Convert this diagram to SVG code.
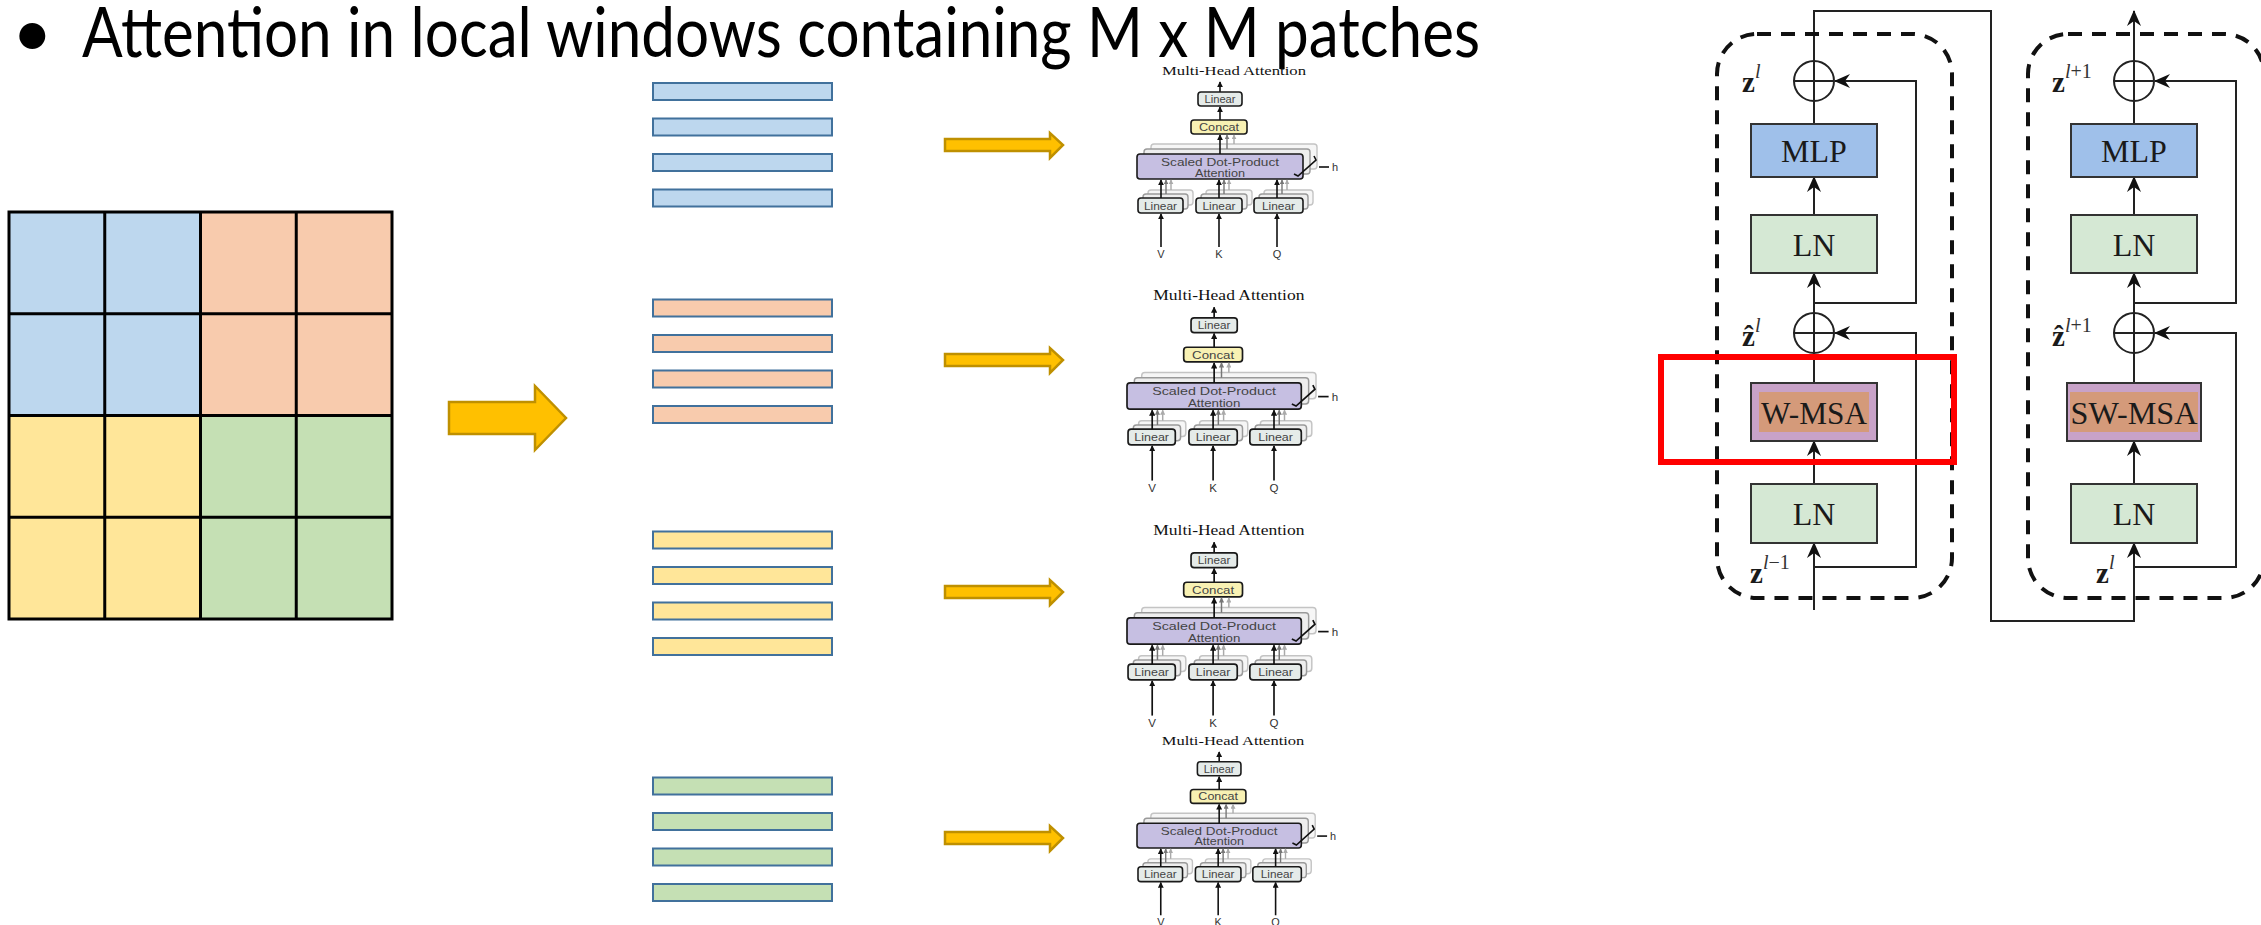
<svg xmlns="http://www.w3.org/2000/svg" xmlns:xlink="http://www.w3.org/1999/xlink" width="2261" height="925" viewBox="0 0 2261 925">
  <style>
    .title { font-family: Lato, "Open Sans", "Liberation Sans", sans-serif; font-size: 70px; fill: #000; }
    .cellline { stroke: #000; stroke-width: 3; fill: none; }
    .bar { stroke: #41719C; stroke-width: 2; }
    .blue { fill: #BDD7EE; } .orange { fill: #F8CBAD; } .yellow { fill: #FFE699; } .green { fill: #C5E0B4; }
    .fat { fill: #FFC000; stroke: #BF9000; stroke-width: 2.5; stroke-linejoin: miter; }
    .mh-title { font-family: "Liberation Serif", serif; font-size: 13px; fill: #111; }
    .mh-txt { font-family: "Liberation Sans", Arial, sans-serif; font-size: 11px; fill: #444; text-anchor: middle; }
    .mh-io { font-family: "Liberation Sans", Arial, sans-serif; font-size: 11px; fill: #333; text-anchor: middle; }
    .lin { fill: #E5EBE9; stroke: #1a1a1a; stroke-width: 1.6; }
    .cat { fill: #F8F1B3; stroke: #1a1a1a; stroke-width: 1.6; }
    .sdp { fill: #C6BFE2; stroke: #1a1a1a; stroke-width: 1.6; }
    .sh1 { fill: #EEEEEE; stroke: #9a9a9a; stroke-width: 1.4; }
    .sh2 { fill: #F6F6F6; stroke: #c4c4c4; stroke-width: 1.4; }
    .ar { stroke: #111; stroke-width: 1.6; fill: none; }
    .ar1 { stroke: #777; stroke-width: 1.4; fill: none; }
    .ar2 { stroke: #aaa; stroke-width: 1.4; fill: none; }
    .wire { stroke: #222; stroke-width: 2; fill: none; }
    .dash { stroke: #111; stroke-width: 4; fill: none; stroke-dasharray: 14 10; }
    .blk { stroke: #333; stroke-width: 2; }
    .mlp { fill: #9FC0EA; } .ln { fill: #D5E8D4; } .msa { fill: #C8A2C8; } .msa-in { fill: #D49A7A; }
    .blk-txt { font-family: "Liberation Serif", "DejaVu Serif", serif; font-size: 32px; fill: #1a1a1a; text-anchor: middle; }
    .sym { font-family: "Liberation Serif", "DejaVu Serif", serif; font-size: 29px; font-weight: bold; fill: #1a1a1a; }
    .sup { font-family: "Liberation Serif", "DejaVu Serif", serif; font-size: 20px; font-weight: normal; font-style: italic; fill: #333; }
    .sup-n { font-style: normal; }
    .redbox { fill: none; stroke: #FF0000; stroke-width: 6; }
  </style>
  <defs>
    <marker id="ah" viewBox="0 0 8 8" refX="7" refY="4" markerWidth="6" markerHeight="6" orient="auto" markerUnits="userSpaceOnUse">
      <path d="M0,0 L8,4 L0,8 z" fill="#111"/>
    </marker>
    <marker id="ah1" viewBox="0 0 8 8" refX="7" refY="4" markerWidth="5" markerHeight="5" orient="auto" markerUnits="userSpaceOnUse">
      <path d="M0,0 L8,4 L0,8 z" fill="#777"/>
    </marker>
    <marker id="ah2" viewBox="0 0 8 8" refX="7" refY="4" markerWidth="5" markerHeight="5" orient="auto" markerUnits="userSpaceOnUse">
      <path d="M0,0 L8,4 L0,8 z" fill="#aaa"/>
    </marker>
    <marker id="stealth" viewBox="0 0 16 14" refX="15" refY="7" markerWidth="16" markerHeight="14" orient="auto" markerUnits="userSpaceOnUse">
      <path d="M16,7 L0,0 L5,7 L0,14 z" fill="#111"/>
    </marker>

    <!-- small block arrow between the token rows and attention blocks -->
    <polygon id="thin-arrow" class="fat" points="945,-6 1050,-6 1050,-12 1063,0 1050,13 1050,6 945,6"/>

    <!-- multi-head attention frame, origin = left of the attention box, title baseline -->
    <g id="mha-frame">
      <line class="ar" x1="83" y1="17" x2="83" y2="7" marker-end="url(#ah)"/>
      <rect class="lin" x="61" y="17" width="44" height="14" rx="3"/>
      <line class="ar" x1="83" y1="45" x2="83" y2="32" marker-end="url(#ah)"/>
      <rect class="cat" x="54" y="45" width="56" height="14" rx="3"/>
      <rect class="sh2" x="14" y="69" width="166" height="25" rx="3"/>
      <rect class="sh1" x="7" y="74" width="166" height="25" rx="3"/>
      <line class="ar2" x1="97" y1="69" x2="97" y2="60" marker-end="url(#ah2)"/>
      <line class="ar1" x1="90" y1="74" x2="90" y2="60" marker-end="url(#ah1)"/>
      <rect class="sdp" x="0" y="79" width="166" height="25" rx="3"/>
      <line class="ar" x1="83" y1="79" x2="83" y2="60" marker-end="url(#ah)"/>
      <!-- projection stacks -->
      <rect class="sh2" x="11" y="115" width="45" height="15" rx="3"/>
      <rect class="sh1" x="6" y="119" width="45" height="15" rx="3"/>
      <rect class="sh2" x="69" y="115" width="46" height="15" rx="3"/>
      <rect class="sh1" x="64" y="119" width="46" height="15" rx="3"/>
      <rect class="sh2" x="127" y="115" width="49" height="15" rx="3"/>
      <rect class="sh1" x="122" y="119" width="49" height="15" rx="3"/>
      <line class="ar2" x1="34" y1="115" x2="34" y2="105" marker-end="url(#ah2)"/>
      <line class="ar1" x1="29" y1="119" x2="29" y2="105" marker-end="url(#ah1)"/>
      <line class="ar2" x1="92" y1="115" x2="92" y2="105" marker-end="url(#ah2)"/>
      <line class="ar1" x1="87" y1="119" x2="87" y2="105" marker-end="url(#ah1)"/>
      <line class="ar2" x1="150" y1="115" x2="150" y2="105" marker-end="url(#ah2)"/>
      <line class="ar1" x1="145" y1="119" x2="145" y2="105" marker-end="url(#ah1)"/>
      <rect class="lin" x="1" y="123" width="45" height="15" rx="3"/>
      <rect class="lin" x="59" y="123" width="46" height="15" rx="3"/>
      <rect class="lin" x="117" y="123" width="49" height="15" rx="3"/>
      <line class="ar" x1="24" y1="123" x2="24" y2="105" marker-end="url(#ah)"/>
      <line class="ar" x1="82" y1="123" x2="82" y2="105" marker-end="url(#ah)"/>
      <line class="ar" x1="140" y1="123" x2="140" y2="105" marker-end="url(#ah)"/>
      <line class="ar" x1="24" y1="172" x2="24" y2="139" marker-end="url(#ah)"/>
      <line class="ar" x1="82" y1="172" x2="82" y2="139" marker-end="url(#ah)"/>
      <line class="ar" x1="140" y1="172" x2="140" y2="139" marker-end="url(#ah)"/>
      <!-- head count bracket -->
      <path class="ar" d="M157,99 L161,101 L179,85 L177,81"/>
      <line class="ar" x1="182" y1="92" x2="192" y2="92" stroke-width="1.2"/>
    </g>
  </defs>

  <rect width="2261" height="925" fill="#fff"/>

  <g id="heading">
    <text class="title" x="12" y="57">•</text>
    <text class="title" x="82" y="57" textLength="1398" lengthAdjust="spacingAndGlyphs">Attention in local windows containing M x M patches</text>
  </g>

  <!-- 4x4 patch grid split into four 2x2 windows -->
  <g id="patch-grid">
    <rect class="blue" x="9" y="212" width="191.5" height="203.5"/>
    <rect class="orange" x="200.5" y="212" width="191.5" height="203.5"/>
    <rect class="yellow" x="9" y="415.5" width="191.5" height="203.5"/>
    <rect class="green" x="200.5" y="415.5" width="191.5" height="203.5"/>
    <path class="cellline" d="M9,212 H392 V619 H9 Z M104.75,212 V619 M200.5,212 V619 M296.25,212 V619 M9,313.75 H392 M9,415.5 H392 M9,517.25 H392"/>
  </g>

  <g id="split-arrow">
    <polygon class="fat" points="449,402 535,402 535,386 566,418 535,450 535,434 449,434"/>
  </g>

  <!-- token rows of each window -->
  <g id="window-blue">
    <rect class="bar blue" x="653" y="83" width="179" height="17"/>
    <rect class="bar blue" x="653" y="118.5" width="179" height="17"/>
    <rect class="bar blue" x="653" y="154" width="179" height="17"/>
    <rect class="bar blue" x="653" y="189.5" width="179" height="17"/>
  </g>
  <g id="window-orange">
    <rect class="bar orange" x="653" y="299.5" width="179" height="17"/>
    <rect class="bar orange" x="653" y="335" width="179" height="17"/>
    <rect class="bar orange" x="653" y="370.5" width="179" height="17"/>
    <rect class="bar orange" x="653" y="406" width="179" height="17"/>
  </g>
  <g id="window-yellow">
    <rect class="bar yellow" x="653" y="531.5" width="179" height="17"/>
    <rect class="bar yellow" x="653" y="567" width="179" height="17"/>
    <rect class="bar yellow" x="653" y="602.5" width="179" height="17"/>
    <rect class="bar yellow" x="653" y="638" width="179" height="17"/>
  </g>
  <g id="window-green">
    <rect class="bar green" x="653" y="777.5" width="179" height="17"/>
    <rect class="bar green" x="653" y="813" width="179" height="17"/>
    <rect class="bar green" x="653" y="848.5" width="179" height="17"/>
    <rect class="bar green" x="653" y="884" width="179" height="17"/>
  </g>

  <g id="connectors">
    <use xlink:href="#thin-arrow" href="#thin-arrow" transform="translate(0,145)"/>
    <use xlink:href="#thin-arrow" href="#thin-arrow" transform="translate(0,360)"/>
    <use xlink:href="#thin-arrow" href="#thin-arrow" transform="translate(0,592)"/>
    <use xlink:href="#thin-arrow" href="#thin-arrow" transform="translate(0,838)"/>
  </g>

  <!-- multi-head attention per window -->
  <g id="mha-1" transform="translate(1137,75)">
    <use xlink:href="#mha-frame" href="#mha-frame"/>
    <text class="mh-title" x="25" y="0" textLength="144" lengthAdjust="spacingAndGlyphs">Multi-Head Attention</text>
    <text class="mh-txt" x="83" y="28" textLength="31" lengthAdjust="spacingAndGlyphs">Linear</text>
    <text class="mh-txt" x="82" y="56" textLength="40" lengthAdjust="spacingAndGlyphs">Concat</text>
    <text class="mh-txt" x="83" y="90.5" textLength="118" lengthAdjust="spacingAndGlyphs">Scaled Dot-Product</text>
    <text class="mh-txt" x="83" y="101.5" textLength="50" lengthAdjust="spacingAndGlyphs">Attention</text>
    <text class="mh-txt" x="23.5" y="134.5" textLength="33" lengthAdjust="spacingAndGlyphs">Linear</text>
    <text class="mh-txt" x="82" y="134.5" textLength="33" lengthAdjust="spacingAndGlyphs">Linear</text>
    <text class="mh-txt" x="141.5" y="134.5" textLength="33" lengthAdjust="spacingAndGlyphs">Linear</text>
    <text class="mh-io" x="24" y="183">V</text>
    <text class="mh-io" x="82" y="183">K</text>
    <text class="mh-io" x="140" y="183">Q</text>
    <text class="mh-io" x="198" y="96">h</text>
  </g>
  <g id="mha-2" transform="translate(1127,300) scale(1.05)">
    <use xlink:href="#mha-frame" href="#mha-frame"/>
    <text class="mh-title" x="25" y="0" textLength="144" lengthAdjust="spacingAndGlyphs">Multi-Head Attention</text>
    <text class="mh-txt" x="83" y="28" textLength="31" lengthAdjust="spacingAndGlyphs">Linear</text>
    <text class="mh-txt" x="82" y="56" textLength="40" lengthAdjust="spacingAndGlyphs">Concat</text>
    <text class="mh-txt" x="83" y="90.5" textLength="118" lengthAdjust="spacingAndGlyphs">Scaled Dot-Product</text>
    <text class="mh-txt" x="83" y="101.5" textLength="50" lengthAdjust="spacingAndGlyphs">Attention</text>
    <text class="mh-txt" x="23.5" y="134.5" textLength="33" lengthAdjust="spacingAndGlyphs">Linear</text>
    <text class="mh-txt" x="82" y="134.5" textLength="33" lengthAdjust="spacingAndGlyphs">Linear</text>
    <text class="mh-txt" x="141.5" y="134.5" textLength="33" lengthAdjust="spacingAndGlyphs">Linear</text>
    <text class="mh-io" x="24" y="183">V</text>
    <text class="mh-io" x="82" y="183">K</text>
    <text class="mh-io" x="140" y="183">Q</text>
    <text class="mh-io" x="198" y="96">h</text>
  </g>
  <g id="mha-3" transform="translate(1127,535) scale(1.05)">
    <use xlink:href="#mha-frame" href="#mha-frame"/>
    <text class="mh-title" x="25" y="0" textLength="144" lengthAdjust="spacingAndGlyphs">Multi-Head Attention</text>
    <text class="mh-txt" x="83" y="28" textLength="31" lengthAdjust="spacingAndGlyphs">Linear</text>
    <text class="mh-txt" x="82" y="56" textLength="40" lengthAdjust="spacingAndGlyphs">Concat</text>
    <text class="mh-txt" x="83" y="90.5" textLength="118" lengthAdjust="spacingAndGlyphs">Scaled Dot-Product</text>
    <text class="mh-txt" x="83" y="101.5" textLength="50" lengthAdjust="spacingAndGlyphs">Attention</text>
    <text class="mh-txt" x="23.5" y="134.5" textLength="33" lengthAdjust="spacingAndGlyphs">Linear</text>
    <text class="mh-txt" x="82" y="134.5" textLength="33" lengthAdjust="spacingAndGlyphs">Linear</text>
    <text class="mh-txt" x="141.5" y="134.5" textLength="33" lengthAdjust="spacingAndGlyphs">Linear</text>
    <text class="mh-io" x="24" y="183">V</text>
    <text class="mh-io" x="82" y="183">K</text>
    <text class="mh-io" x="140" y="183">Q</text>
    <text class="mh-io" x="198" y="96">h</text>
  </g>
  <g id="mha-4" transform="translate(1137,745) scale(0.99)">
    <use xlink:href="#mha-frame" href="#mha-frame"/>
    <text class="mh-title" x="25" y="0" textLength="144" lengthAdjust="spacingAndGlyphs">Multi-Head Attention</text>
    <text class="mh-txt" x="83" y="28" textLength="31" lengthAdjust="spacingAndGlyphs">Linear</text>
    <text class="mh-txt" x="82" y="56" textLength="40" lengthAdjust="spacingAndGlyphs">Concat</text>
    <text class="mh-txt" x="83" y="90.5" textLength="118" lengthAdjust="spacingAndGlyphs">Scaled Dot-Product</text>
    <text class="mh-txt" x="83" y="101.5" textLength="50" lengthAdjust="spacingAndGlyphs">Attention</text>
    <text class="mh-txt" x="23.5" y="134.5" textLength="33" lengthAdjust="spacingAndGlyphs">Linear</text>
    <text class="mh-txt" x="82" y="134.5" textLength="33" lengthAdjust="spacingAndGlyphs">Linear</text>
    <text class="mh-txt" x="141.5" y="134.5" textLength="33" lengthAdjust="spacingAndGlyphs">Linear</text>
    <text class="mh-io" x="24" y="183">V</text>
    <text class="mh-io" x="82" y="183">K</text>
    <text class="mh-io" x="140" y="183">Q</text>
    <text class="mh-io" x="198" y="96">h</text>
  </g>

  <!-- two successive Swin Transformer blocks -->
  <g id="block-connectors">
    <!-- left block wiring -->
    <path class="wire" d="M1814,61 V11 H1991 V621 H2134 V543" marker-end="url(#stealth)"/>
    <line class="wire" x1="1814" y1="610" x2="1814" y2="543" marker-end="url(#stealth)"/>
    <line class="wire" x1="1814" y1="484" x2="1814" y2="441" marker-end="url(#stealth)"/>
    <line class="wire" x1="1814" y1="383" x2="1814" y2="353"/>
    <line class="wire" x1="1814" y1="313" x2="1814" y2="273" marker-end="url(#stealth)"/>
    <line class="wire" x1="1814" y1="215" x2="1814" y2="177" marker-end="url(#stealth)"/>
    <line class="wire" x1="1814" y1="124" x2="1814" y2="101"/>
    <path class="wire" d="M1814,567 H1916 V333 H1835" marker-end="url(#stealth)"/>
    <path class="wire" d="M1814,303 H1916 V81 H1835" marker-end="url(#stealth)"/>
    <!-- right block wiring -->
    <line class="wire" x1="2134" y1="484" x2="2134" y2="441" marker-end="url(#stealth)"/>
    <line class="wire" x1="2134" y1="383" x2="2134" y2="353"/>
    <line class="wire" x1="2134" y1="313" x2="2134" y2="273" marker-end="url(#stealth)"/>
    <line class="wire" x1="2134" y1="215" x2="2134" y2="177" marker-end="url(#stealth)"/>
    <line class="wire" x1="2134" y1="124" x2="2134" y2="101"/>
    <line class="wire" x1="2134" y1="61" x2="2134" y2="11" marker-end="url(#stealth)"/>
    <path class="wire" d="M2134,567 H2236 V333 H2155" marker-end="url(#stealth)"/>
    <path class="wire" d="M2134,303 H2236 V81 H2155" marker-end="url(#stealth)"/>
  </g>

  <g id="swin-block-1">
    <rect class="dash" x="1717" y="34" width="235" height="564" rx="40"/>
    <g id="add-1a"><circle class="wire" cx="1814" cy="81" r="20"/><path class="wire" d="M1794,81 H1834 M1814,61 V101"/></g>
    <g id="mlp-1"><rect class="blk mlp" x="1751" y="124" width="126" height="53"/><text class="blk-txt" x="1814" y="162">MLP</text></g>
    <g id="ln-1a"><rect class="blk ln" x="1751" y="215" width="126" height="58"/><text class="blk-txt" x="1814" y="256">LN</text></g>
    <g id="add-1b"><circle class="wire" cx="1814" cy="333" r="20"/><path class="wire" d="M1794,333 H1834 M1814,313 V353"/></g>
    <g id="wmsa"><rect class="blk msa" x="1751" y="383" width="126" height="58"/><rect class="msa-in" x="1759" y="392" width="110" height="40"/><text class="blk-txt" x="1814" y="424" textLength="106" lengthAdjust="spacingAndGlyphs">W-MSA</text></g>
    <g id="ln-1b"><rect class="blk ln" x="1751" y="484" width="126" height="59"/><text class="blk-txt" x="1814" y="525">LN</text></g>
    <text class="sym" x="1742" y="92">z<tspan class="sup" dy="-14">l</tspan></text>
    <text class="sym" x="1742" y="346">ẑ<tspan class="sup" dy="-14">l</tspan></text>
    <text class="sym" x="1750" y="583">z<tspan class="sup" dy="-14">l</tspan><tspan class="sup sup-n" dy="0">−1</tspan></text>
  </g>

  <g id="swin-block-2">
    <rect class="dash" x="2028" y="34" width="236" height="564" rx="40"/>
    <g id="add-2a"><circle class="wire" cx="2134" cy="81" r="20"/><path class="wire" d="M2114,81 H2154 M2134,61 V101"/></g>
    <g id="mlp-2"><rect class="blk mlp" x="2071" y="124" width="126" height="53"/><text class="blk-txt" x="2134" y="162">MLP</text></g>
    <g id="ln-2a"><rect class="blk ln" x="2071" y="215" width="126" height="58"/><text class="blk-txt" x="2134" y="256">LN</text></g>
    <g id="add-2b"><circle class="wire" cx="2134" cy="333" r="20"/><path class="wire" d="M2114,333 H2154 M2134,313 V353"/></g>
    <g id="swmsa"><rect class="blk msa" x="2067" y="383" width="134" height="58"/><rect class="msa-in" x="2070" y="392" width="128" height="40"/><text class="blk-txt" x="2134" y="424" textLength="127" lengthAdjust="spacingAndGlyphs">SW-MSA</text></g>
    <g id="ln-2b"><rect class="blk ln" x="2071" y="484" width="126" height="59"/><text class="blk-txt" x="2134" y="525">LN</text></g>
    <text class="sym" x="2052" y="92">z<tspan class="sup sup-n" dy="-14"><tspan class="sup">l</tspan>+1</tspan></text>
    <text class="sym" x="2052" y="346">ẑ<tspan class="sup sup-n" dy="-14"><tspan class="sup">l</tspan>+1</tspan></text>
    <text class="sym" x="2096" y="583">z<tspan class="sup" dy="-14">l</tspan></text>
  </g>

  <rect id="focus-box" class="redbox" x="1661" y="357" width="293" height="105"/>
</svg>
